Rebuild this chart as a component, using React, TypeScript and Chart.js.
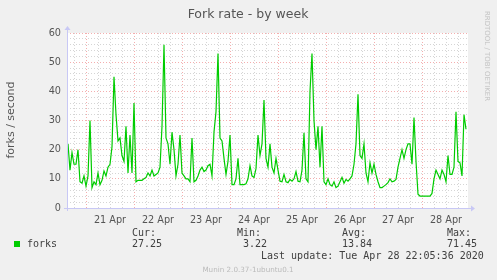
import React, { useEffect, useRef } from 'react';
import { Chart, registerables } from 'chart.js';

Chart.register(...registerables);

// hours are counted from 21 Apr 00:00; one value per hour
const START_HOUR = -10;
const forks: number[] = [
  14, 22, 13, 19, 15, 15, 20, 9, 8.5, 11,
  7.5, 11, 30, 7, 9, 8, 12, 8, 9.5, 12.7,
  11, 14, 15, 21, 45, 32, 23, 24, 18, 16,
  28, 12, 25, 12, 36, 9, 9.5, 9.5, 9.5, 10,
  10.5, 12, 11, 13, 11, 11.5, 12, 14, 28, 56,
  24, 22, 15, 26, 20, 11, 15, 25, 12, 11,
  10, 10, 9, 24, 9, 9.5, 11, 13, 14, 12.5,
  13, 14.5, 15, 11, 26, 33, 53, 24, 23, 17,
  11.5, 16, 25, 8, 8, 10, 17, 8, 8, 8,
  8.3, 10, 14.5, 11, 10.5, 13.5, 25, 18, 22, 37,
  17, 14, 22, 14, 12, 17, 13, 9.2, 9, 11.5,
  9, 8.7, 9.8, 9.2, 10, 12.5, 9.2, 9, 13, 25.8,
  10, 9, 40, 53, 30, 20, 28, 14, 28, 9,
  8, 10, 8, 7.5, 9, 7, 7.5, 9, 10.5, 8.5,
  9.8, 9.2, 10, 11, 15, 22, 39, 18, 17, 22,
  12, 9, 15.5, 12, 15, 11.5, 9, 7, 7, 7.5,
  8, 8.7, 10, 9, 9.2, 9.8, 14, 17, 20, 17,
  20, 22, 22, 15, 31, 16, 4.7, 4.1, 4.1, 4.1,
  4.1, 4.1, 4.1, 5, 10, 13, 11.5, 10, 13, 11.5,
  9, 18, 11.5, 11.5, 14, 33, 16, 15.5, 11, 32,
  27,
];
const dayLabels: string[] = ['21 Apr', '22 Apr', '23 Apr', '24 Apr', '25 Apr', '26 Apr', '27 Apr', '28 Apr'];
const yTicks: number[] = [0, 10, 20, 30, 40, 50, 60];
const legendHeads: string[] = ['Cur:', 'Min:', 'Avg:', 'Max:'];
const legendValues: string[] = ['27.25', '3.22', '13.84', '71.45'];

const X_MIN = -9.5;
const X_MAX = 191;
const AXIS_COLOR = '#c8c8f5';
const MAJOR = 'rgba(240,140,140,0.7)';
const MINOR = 'rgba(190,190,190,0.65)';

export default function App() {
  const ref = useRef<HTMLCanvasElement>(null);

  useEffect(() => {
    const canvas = ref.current;
    if (!canvas) return;

    const muninPlugin = {
      id: 'muninDecor',
      beforeDraw(chart: any) {
        const { ctx, chartArea: a } = chart;
        ctx.save();
        ctx.fillStyle = '#ffffff';
        ctx.fillRect(a.left, a.top, a.right - a.left, a.bottom - a.top);
        ctx.restore();
      },
      afterDraw(chart: any) {
        const { ctx, chartArea: a } = chart;
        ctx.save();
        ctx.strokeStyle = AXIS_COLOR;
        ctx.fillStyle = AXIS_COLOR;
        ctx.lineWidth = 1;
        const x0 = Math.round(a.left) + 0.5;
        const y0 = Math.round(a.bottom) + 0.5;
        ctx.beginPath();
        ctx.moveTo(x0, a.bottom + 3);
        ctx.lineTo(x0, a.top - 4);
        ctx.moveTo(a.left - 3, y0);
        ctx.lineTo(a.right + 3, y0);
        ctx.stroke();
        ctx.beginPath();
        ctx.moveTo(x0 - 3, a.top - 3);
        ctx.lineTo(x0 + 3, a.top - 3);
        ctx.lineTo(x0, a.top - 7);
        ctx.closePath();
        ctx.fill();
        ctx.beginPath();
        ctx.moveTo(a.right + 3, y0 - 3);
        ctx.lineTo(a.right + 3, y0 + 3);
        ctx.lineTo(a.right + 7, y0);
        ctx.closePath();
        ctx.fill();
        ctx.restore();
      },
    };

    const chart = new Chart(canvas, {
      type: 'line',
      data: {
        datasets: [
          {
            label: 'forks',
            data: forks.map((v, i) => ({ x: START_HOUR + i, y: v })),
            borderColor: '#00cc00',
            borderWidth: 1.2,
            pointRadius: 0,
            tension: 0,
            fill: false,
          },
        ],
      },
      options: {
        animation: false,
        responsive: false,
        devicePixelRatio: 1,
        parsing: false as any,
        layout: { padding: { top: 33, right: 29, bottom: 0, left: 0 } },
        plugins: {
          legend: { display: false },
          title: { display: false },
          tooltip: { enabled: false },
        },
        scales: {
          x: {
            type: 'linear',
            min: X_MIN,
            max: X_MAX,
            afterFit(scale: any) {
              scale.height = 72;
            },
            afterBuildTicks(scale: any) {
              const t: any[] = [];
              for (let h = -6; h <= 186; h += 6) t.push({ value: h });
              scale.ticks = t;
            },
            ticks: {
              autoSkip: false,
              maxRotation: 0,
              padding: 7,
              color: '#555555',
              font: { family: '"DejaVu Sans"', size: 9.7 },
              callback: (value: any) => {
                const v = Number(value);
                if (((v % 24) + 24) % 24 === 12) {
                  const d = (v - 12) / 24;
                  return dayLabels[d] ?? '';
                }
                return '';
              },
            },
            grid: {
              drawTicks: false,
              lineWidth: 1,
              color: (c: any) => (c.tick && ((c.tick.value % 24) + 24) % 24 === 0 ? MAJOR : MINOR),
            },
            border: { display: false, dash: [1, 2] },
          },
          y: {
            type: 'linear',
            min: 0,
            max: 60,
            afterFit(scale: any) {
              scale.width = 67;
            },
            afterBuildTicks(scale: any) {
              const t: any[] = [];
              for (let v = 0; v <= 60; v += 2) t.push({ value: v });
              scale.ticks = t;
            },
            ticks: {
              autoSkip: false,
              padding: 6,
              color: '#555555',
              font: { family: '"DejaVu Sans"', size: 9.7 },
              callback: (value: any) => (yTicks.includes(Number(value)) ? String(value) : ''),
            },
            grid: {
              drawTicks: false,
              lineWidth: 1,
              color: (c: any) => (c.tick && c.tick.value % 10 === 0 ? MAJOR : MINOR),
            },
            border: { display: false, dash: [1, 2] },
          },
        },
      },
      plugins: [muninPlugin],
    } as any);

    return () => chart.destroy();
  }, []);

  const mono: React.CSSProperties = {
    position: 'absolute',
    fontFamily: '"DejaVu Sans Mono", monospace',
    fontSize: 10,
    lineHeight: '12px',
    color: '#404040',
    whiteSpace: 'pre',
  };
  const legendX = [132, 237, 342, 447];
  const valueX = [132, 243, 342, 447];

  return (
    <div
      style={{
        position: 'fixed',
        left: 0,
        top: 0,
        width: 497,
        height: 280,
        background: '#f0f0f0',
        overflow: 'hidden',
        fontFamily: '"DejaVu Sans", sans-serif',
      }}
    >
      <canvas ref={ref} width={497} height={280} style={{ position: 'absolute', left: 0, top: 0 }} />
      <div
        style={{
          position: 'absolute',
          left: 248,
          top: 13,
          transform: 'translate(-50%, -50%)',
          fontSize: 12.5,
          color: '#555555',
          whiteSpace: 'nowrap',
        }}
      >
        Fork rate - by week
      </div>
      <div
        style={{
          position: 'absolute',
          left: -34,
          top: 113,
          width: 90,
          height: 14,
          lineHeight: '14px',
          textAlign: 'center',
          transform: 'rotate(-90deg)',
          fontSize: 11,
          fontWeight: 400,
          color: '#555555',
          whiteSpace: 'nowrap',
        }}
      >
        forks / second
      </div>
      <div
        style={{
          position: 'absolute',
          left: 437,
          top: 51,
          width: 100,
          height: 10,
          lineHeight: '10px',
          textAlign: 'center',
          transform: 'rotate(90deg)',
          fontSize: 7,
          color: '#c4c4c4',
          whiteSpace: 'nowrap',
        }}
      >
        RRDTOOL / TOBI OETIKER
      </div>
      {legendHeads.map((h, i) => (
        <span key={h} style={{ ...mono, left: legendX[i], top: 227 }}>
          {h}
        </span>
      ))}
      <span
        style={{ position: 'absolute', left: 14, top: 241, width: 6, height: 6, background: '#00cc00' }}
      />
      <span style={{ ...mono, left: 27, top: 238 }}>forks</span>
      {legendValues.map((v, i) => (
        <span key={'v' + i} style={{ ...mono, left: valueX[i], top: 238 }}>
          {v}
        </span>
      ))}
      <span style={{ ...mono, left: 261, top: 250 }}>Last update: Tue Apr 28 22:05:36 2020</span>
      <div
        style={{
          position: 'absolute',
          left: 248,
          top: 269,
          transform: 'translate(-50%, -50%)',
          fontSize: 7.2,
          color: '#bbbbbb',
          whiteSpace: 'nowrap',
        }}
      >
        Munin 2.0.37-1ubuntu0.1
      </div>
    </div>
  );
}
